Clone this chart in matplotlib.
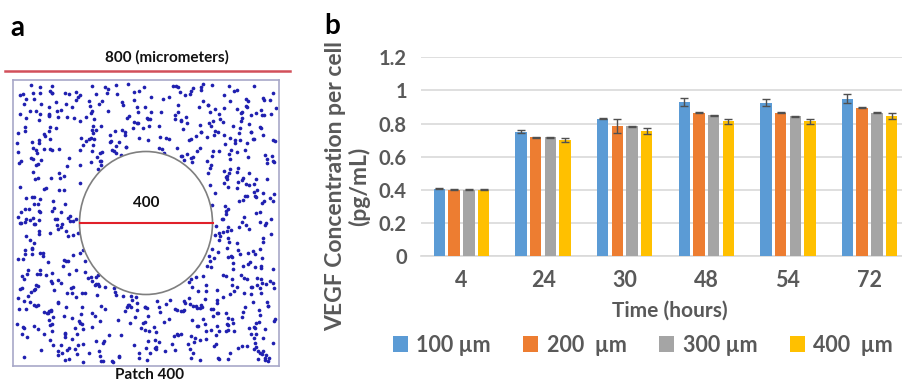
#!/usr/bin/env python3
import numpy as np
import matplotlib.pyplot as plt
from matplotlib.patches import Circle

# panel b data
times = ['4', '24', '30', '48', '54', '72']
series_names = ['100 µm', '200  µm', '300 µm', '400  µm']
conc_100 = [0.405, 0.750, 0.829, 0.930, 0.926, 0.950]
conc_200 = [0.400, 0.718, 0.785, 0.864, 0.864, 0.894]
conc_300 = [0.400, 0.718, 0.783, 0.850, 0.844, 0.864]
conc_400 = [0.400, 0.700, 0.755, 0.813, 0.813, 0.845]
err_100 = [0.003, 0.010, 0.003, 0.026, 0.023, 0.028]
err_200 = [0.002, 0.003, 0.045, 0.003, 0.003, 0.003]
err_300 = [0.002, 0.003, 0.003, 0.003, 0.003, 0.003]
err_400 = [0.002, 0.012, 0.018, 0.015, 0.015, 0.018]

# panel a: domain size and patch diameter (micrometers)
domain_size = 800
patch_diameter = 400
n_cells = 760

colors = ['#5B9BD5', '#ED7D31', '#A5A5A5', '#FFC000']
text_gray = '#595959'
fam = ['Lato', 'DejaVu Sans']


def main():
    fig = plt.figure(figsize=(9.03, 3.83), dpi=100)

    # ---- panel a: cell positions around the empty patch
    axa = fig.add_axes([13 / 903, 17 / 383, 266 / 903, 286 / 383])
    # cell positions are illustrative only (uniform scatter, patch left empty)
    rng = np.random.default_rng(7)
    pts = rng.uniform(10, domain_size - 10, size=(n_cells * 2, 2))
    c = domain_size / 2
    r = patch_diameter / 2
    keep = np.hypot(pts[:, 0] - c, pts[:, 1] - c) > r + 4
    pts = pts[keep][:n_cells]
    axa.scatter(pts[:, 0], pts[:, 1], s=7, color='#2020b0', linewidths=0)
    axa.add_patch(Circle((c, c), r, facecolor='white', edgecolor='#7f7f7f', lw=1.2))
    axa.plot([c - r, c + r], [c, c], color='#e0202a', lw=1.5)
    axa.text(c, c + 55, str(patch_diameter), ha='center', va='center',
             fontsize=11, fontweight='bold', family=fam, color='#111111')
    axa.set_xlim(0, domain_size)
    axa.set_ylim(0, domain_size)
    axa.set_xticks([])
    axa.set_yticks([])
    for sp in axa.spines.values():
        sp.set_color('#a8a8c8')
        sp.set_linewidth(1.2)

    fig.text(167 / 903, 1 - 57 / 383, '800 (micrometers)', ha='center', va='center',
             fontsize=11, fontweight='bold', family=fam, color='#111111')
    fig.add_artist(plt.Line2D([5 / 903, 290 / 903], [1 - 71 / 383, 1 - 71 / 383],
                              color='#d2505a', lw=1.8))
    fig.text(150 / 903, 1 - 375 / 383, 'Patch 400', ha='center', va='center',
             fontsize=11, fontweight='bold', family=fam, color='#111111')
    fig.text(10 / 903, 1 - 28 / 383, 'a', ha='left', va='center',
             fontsize=20, fontweight='bold', family=fam, color='black')
    fig.text(324 / 903, 1 - 26 / 383, 'b', ha='left', va='center',
             fontsize=20, fontweight='bold', family=fam, color='black')

    # ---- panel b: grouped bars
    group_w = 81.6
    left = 420.7
    axb = fig.add_axes([left / 903, 1 - 256 / 383, 6 * group_w / 903, (256 - 57.3) / 383])
    x = np.arange(len(times))
    width = 0.14
    pitch = 0.18
    all_vals = [conc_100, conc_200, conc_300, conc_400]
    all_errs = [err_100, err_200, err_300, err_400]
    for i, (vals, errs) in enumerate(zip(all_vals, all_errs)):
        axb.bar(x + (i - 1.5) * pitch, vals, width, color=colors[i],
                label=series_names[i], zorder=3,
                yerr=errs, error_kw=dict(ecolor='#505050', elinewidth=1.0,
                                         capsize=3, capthick=1.0, zorder=4))
    axb.set_xlim(-0.5, len(times) - 0.5)
    axb.set_ylim(0, 1.2)
    axb.set_yticks([0, 0.2, 0.4, 0.6, 0.8, 1.0, 1.2])
    axb.set_yticklabels(['0', '0.2', '0.4', '0.6', '0.8', '1', '1.2'])
    axb.set_xticks(x)
    axb.set_xticklabels(times)
    axb.grid(axis='y', color='#d9d9d9', lw=1.2, zorder=0)
    for sp in ['top', 'right', 'left']:
        axb.spines[sp].set_visible(False)
    axb.spines['bottom'].set_color('#d9d9d9')
    axb.spines['bottom'].set_linewidth(1.2)
    axb.tick_params(axis='y', length=0, labelsize=14.5, colors=text_gray, pad=10)
    axb.tick_params(axis='x', length=0, labelsize=15.5, colors=text_gray, pad=10)
    for lab in axb.get_xticklabels() + axb.get_yticklabels():
        lab.set_family(fam)
        lab.set_fontweight('bold')

    fig.text(670 / 903, 1 - 311 / 383, 'Time (hours)', ha='center', va='center',
             fontsize=15, fontweight='bold', family=fam, color=text_gray)
    fig.text(348 / 903, 1 - 186 / 383, 'VEGF Concentration per cell\n(pg/mL)',
             ha='center', va='center', rotation=90, fontsize=16.5, fontweight='bold',
             family=fam, color=text_gray, linespacing=1.1)

    leg = fig.legend(loc='center', bbox_to_anchor=(643 / 903, 1 - 345 / 383), ncol=4,
                     frameon=False, handlelength=0.7, handleheight=0.7,
                     handletextpad=0.4, columnspacing=1.5,
                     prop=dict(family=fam, weight='bold', size=15.5))
    for t in leg.get_texts():
        t.set_color(text_gray)

    fig.savefig('out.png', dpi=100)


main()
